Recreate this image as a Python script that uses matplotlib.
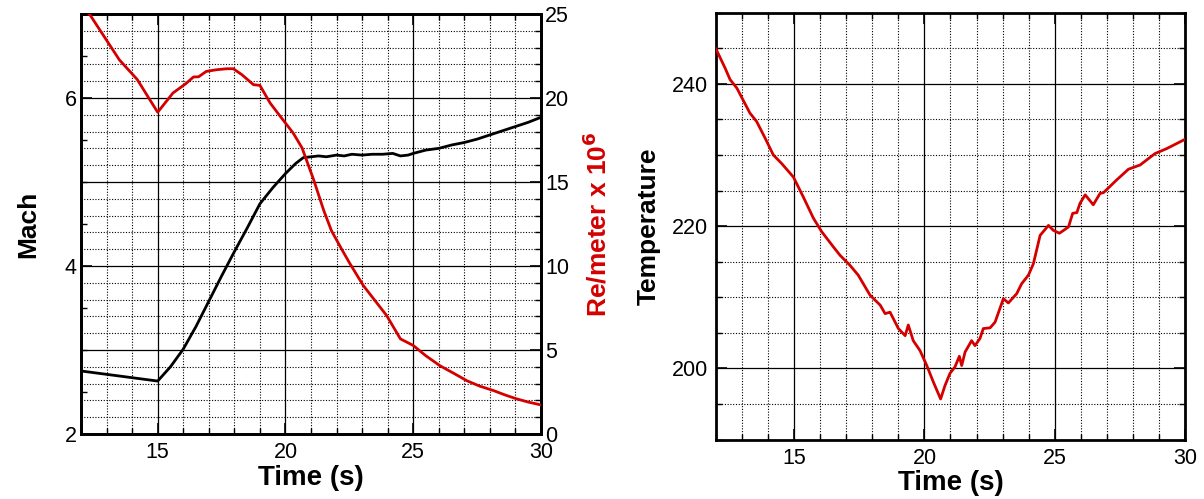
import matplotlib.pyplot as plt
from matplotlib.ticker import MultipleLocator

plt.rcParams['font.family'] = ['Liberation Sans', 'DejaVu Sans']

# ── data ─────────────────────────────────────────────────────────────────────
mach_t = [12.0, 13.0, 14.0, 15.0, 15.5, 16.0, 16.5, 17.0, 17.5, 18.0, 18.5,
          19.0, 19.5, 20.0, 20.4, 20.7, 21.0, 21.3, 21.6, 22.0, 22.3, 22.6,
          23.0, 23.4, 23.8, 24.2, 24.5, 24.8, 25.0, 25.5, 26.0, 26.5, 27.0,
          27.5, 28.0, 28.5, 29.0, 29.5, 30.0]
mach = [2.75, 2.71, 2.67, 2.63, 2.80, 3.01, 3.28, 3.58, 3.88, 4.17, 4.45,
        4.74, 4.93, 5.10, 5.22, 5.29, 5.30, 5.31, 5.30, 5.32, 5.31, 5.33,
        5.32, 5.33, 5.33, 5.34, 5.31, 5.32, 5.34, 5.38, 5.40, 5.44, 5.47,
        5.51, 5.56, 5.61, 5.66, 5.71, 5.77]

re_t = [12.0, 12.35, 13.5, 14.2, 14.65, 15.0, 15.6, 16.1, 16.4, 16.6, 16.9,
        17.3, 17.7, 17.96, 18.3, 18.75, 19.0, 19.4, 19.8, 20.3, 20.65, 21.1,
        21.5, 21.8, 22.2, 22.5, 23.05, 23.5, 23.96, 24.5, 25.0, 25.5, 26.05,
        26.6, 27.1, 27.6, 28.15, 28.6, 29.05, 29.5, 30.0]
re = [25.4, 24.95, 22.27, 21.1, 20.0, 19.15, 20.3, 20.85, 21.25, 21.26, 21.58,
      21.68, 21.74, 21.74, 21.38, 20.79, 20.75, 19.7, 18.9, 17.92, 17.03, 15.15,
      13.3, 12.1, 11.0, 10.2, 8.83, 7.95, 7.05, 5.66, 5.27, 4.65, 4.06,
      3.6, 3.17, 2.85, 2.58, 2.32, 2.09, 1.9, 1.73]

temp_t = [12.0, 12.35, 12.54, 12.8, 13.3, 13.56, 13.88, 14.2, 14.52, 14.97,
          15.35, 15.74, 16.06, 16.5, 16.76, 17.14, 17.46, 17.91, 18.3, 18.49,
          18.68, 19.0, 19.26, 19.38, 19.57, 19.83, 20.09, 20.34, 20.62, 20.79,
          20.98, 21.17, 21.34, 21.43, 21.56, 21.81, 21.94, 22.13, 22.26, 22.52,
          22.71, 23.03, 23.22, 23.54, 23.73, 23.99, 24.18, 24.31, 24.44, 24.76,
          24.95, 25.18, 25.34, 25.53, 25.69, 25.85, 25.97, 26.17, 26.48, 26.74,
          26.87, 27.38, 27.83, 28.28, 28.85, 29.3, 30.0]
temp = [244.9, 242.2, 240.6, 239.4, 235.9, 234.7, 232.4, 230.0, 228.8, 226.9,
        224.1, 221.1, 219.2, 217.1, 215.9, 214.5, 213.1, 210.3, 208.9, 207.7,
        207.9, 205.6, 204.6, 206.1, 203.9, 202.5, 200.4, 198.1, 195.7, 197.6,
        199.3, 200.2, 201.7, 200.4, 202.3, 203.9, 203.2, 204.2, 205.6, 205.7,
        206.5, 209.8, 209.2, 210.5, 211.9, 213.1, 214.7, 216.7, 218.7, 220.1,
        219.4, 219.0, 219.4, 219.9, 221.8, 221.9, 223.2, 224.4, 223.0, 224.6,
        224.7, 226.5, 228.0, 228.6, 230.2, 230.9, 232.2]

RED = '#d40000'
TICK_FS = 15.5
LABEL_FS = 19

fig = plt.figure(figsize=(12.04, 4.99), dpi=100)
fig.patch.set_facecolor('white')


def style_axis(a):
    for s in a.spines.values():
        s.set_linewidth(2.0)
    a.tick_params(which='major', direction='in', length=8, width=1.2,
                  labelsize=TICK_FS, top=True)
    a.tick_params(which='minor', direction='in', length=4, width=1.0, top=True)
    a.tick_params(axis='x', pad=6)


# ── left panel: Mach + Re/meter ──────────────────────────────────────────────
ax = fig.add_axes([0.0673, 0.1303, 0.382, 0.8417])
ax2 = ax.twinx()

ax.set_xlim(12, 30)
ax.set_ylim(2, 7)
ax2.set_ylim(0, 25)

ax.xaxis.set_major_locator(MultipleLocator(5))
ax.xaxis.set_minor_locator(MultipleLocator(1))
ax.yaxis.set_major_locator(MultipleLocator(2))
ax.yaxis.set_minor_locator(MultipleLocator(0.5))
ax2.yaxis.set_major_locator(MultipleLocator(5))
ax2.yaxis.set_minor_locator(MultipleLocator(1))

style_axis(ax)
style_axis(ax2)
ax.tick_params(axis='y', right=False, which='both', pad=3)
ax2.tick_params(axis='y', which='both', right=True, left=False, pad=3)

ax.xaxis.grid(True, which='major', color='black', lw=0.9)
ax.xaxis.grid(True, which='minor', color='black', lw=0.8, ls=(0, (1, 1.5)))
ax2.yaxis.grid(True, which='major', color='black', lw=0.9)
ax2.yaxis.grid(True, which='minor', color='black', lw=0.8, ls=(0, (1, 1.5)))
ax2.set_axisbelow(True)

ax.plot(mach_t, mach, color='black', lw=2.0, zorder=5)
ax2.plot(re_t, re, color=RED, lw=2.0, zorder=5)

ax.set_xlabel('Time (s)', fontsize=LABEL_FS + 1, fontweight='bold', labelpad=1)
ax.set_ylabel('Mach', fontsize=LABEL_FS, fontweight='bold', labelpad=18)
ax2.set_ylabel(r'Re/meter x 10$^\mathbf{6}$', fontsize=LABEL_FS,
               fontweight='bold', color=RED, labelpad=10)

# ── right panel: Temperature ─────────────────────────────────────────────────
bx = fig.add_axes([0.5947, 0.1192, 0.3895, 0.8553])
bx.set_xlim(12, 30)
bx.set_ylim(190, 250)
bx.xaxis.set_major_locator(MultipleLocator(5))
bx.xaxis.set_minor_locator(MultipleLocator(1))
bx.yaxis.set_major_locator(MultipleLocator(20))
bx.yaxis.set_minor_locator(MultipleLocator(5))
style_axis(bx)
bx.tick_params(which='both', right=True)
bx.tick_params(axis='y', pad=6)

bx.grid(True, which='major', color='black', lw=0.9)
bx.grid(True, which='minor', color='black', lw=0.8, ls=(0, (1, 1.5)))
bx.set_axisbelow(True)

bx.plot(temp_t, temp, color=RED, lw=2.0, zorder=5)

bx.set_xlabel('Time (s)', fontsize=LABEL_FS + 1, fontweight='bold', labelpad=1)
bx.set_ylabel('Temperature', fontsize=LABEL_FS, fontweight='bold', labelpad=8)

plt.savefig('out.png', dpi=100, facecolor='white')
plt.close()
